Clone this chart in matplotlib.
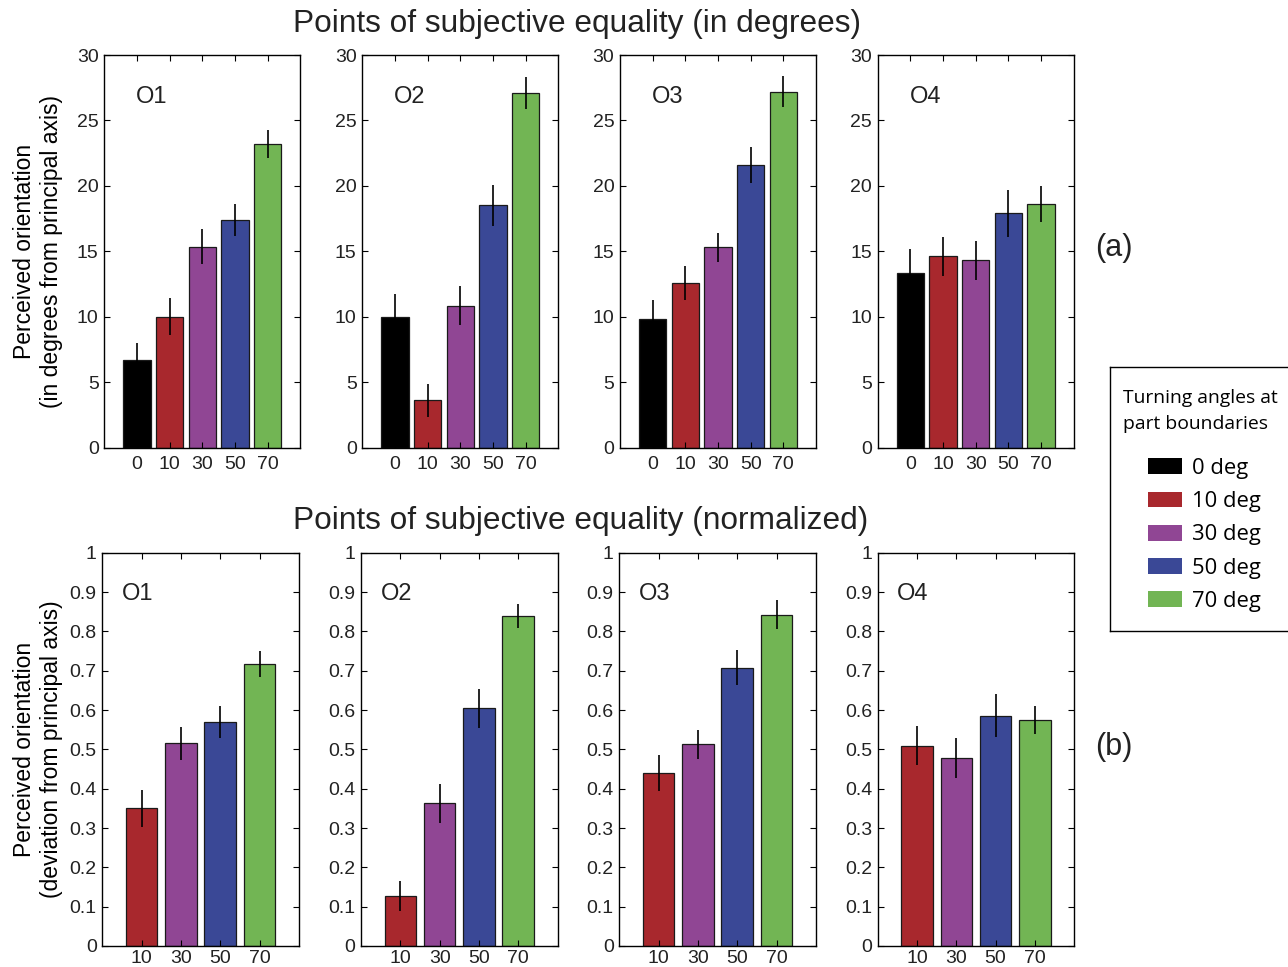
import matplotlib
matplotlib.use('Agg')
import matplotlib.pyplot as plt
from matplotlib.patches import Patch

plt.rcParams['font.family'] = ['Liberation Sans', 'DejaVu Sans']

# data
observers = ['O1', 'O2', 'O3', 'O4']
angles_deg = ['0', '10', '30', '50', '70']
angles_norm = ['10', '30', '50', '70']
colors = ['#000000', '#a8282d', '#904694', '#3a4896', '#72b554']

pse_deg = [
    [6.7, 10.0, 15.35, 17.4, 23.2],
    [10.0, 3.6, 10.85, 18.5, 27.1],
    [9.85, 12.6, 15.3, 21.6, 27.2],
    [13.3, 14.6, 14.3, 17.9, 18.6],
]
err_deg = [
    [1.3, 1.4, 1.35, 1.2, 1.1],
    [1.7, 1.25, 1.5, 1.6, 1.2],
    [1.45, 1.3, 1.1, 1.35, 1.2],
    [1.85, 1.5, 1.5, 1.8, 1.4],
]
pse_norm = [
    [0.35, 0.515, 0.569, 0.717],
    [0.127, 0.363, 0.604, 0.839],
    [0.439, 0.513, 0.708, 0.842],
    [0.509, 0.478, 0.586, 0.575],
]
err_norm = [
    [0.047, 0.043, 0.04, 0.033],
    [0.038, 0.05, 0.05, 0.03],
    [0.046, 0.037, 0.044, 0.037],
    [0.05, 0.05, 0.055, 0.035],
]

W, H = 1288, 967
fig = plt.figure(figsize=(W / 100, H / 100), dpi=100)

def px_axes(left, top, right, bottom):
    return fig.add_axes([left / W, 1 - bottom / H, (right - left) / W, (bottom - top) / H])

def style(ax, xpad=6):
    ax.tick_params(direction='in', top=True, right=True, length=4, width=0.8,
                   labelsize=14, labelcolor='#222222', pad=4)
    ax.tick_params(axis='x', pad=xpad)
    for s in ax.spines.values():
        s.set_linewidth(1.0)

top_lefts = [104.3, 362.3, 620, 877.7]
bot_lefts = [102.3, 361, 619.3, 877.7]

# (a) degrees
for i, obs in enumerate(observers):
    ax = px_axes(top_lefts[i], 55, top_lefts[i] + 196, 447.5)
    x = range(1, 6)
    ax.bar(x, pse_deg[i], width=0.83, color=colors, edgecolor='#1a1a1a', linewidth=0.9)
    ax.errorbar(x, pse_deg[i], yerr=err_deg[i], fmt='none', ecolor='black', elinewidth=1.2, capsize=0)
    ax.set_xlim(0, 6)
    ax.set_ylim(0, 30)
    ax.set_xticks(list(x))
    ax.set_xticklabels(angles_deg)
    ax.set_yticks(range(0, 31, 5))
    ax.text(0.97, 26.8, obs, fontsize=17, va='center', ha='left', color='#222222')
    style(ax)
    if i == 0:
        ax.set_ylabel('Perceived orientation\n(in degrees from principal axis)', fontsize=16.5)
        ax.yaxis.set_label_coords((63 - 104.3) / 196, 0.5)

# (b) normalized
for i, obs in enumerate(observers):
    ax = px_axes(bot_lefts[i], 552.7, bot_lefts[i] + 196.5, 946)
    x = range(1, 5)
    ax.bar(x, pse_norm[i], width=0.8, color=colors[1:], edgecolor='#1a1a1a', linewidth=0.9)
    ax.errorbar(x, pse_norm[i], yerr=err_norm[i], fmt='none', ecolor='black', elinewidth=1.2, capsize=0)
    ax.set_xlim(0, 5)
    ax.set_ylim(0, 1)
    ax.set_xticks(list(x))
    ax.set_xticklabels(angles_norm)
    yt = [k / 10 for k in range(11)]
    ax.set_yticks(yt)
    ax.set_yticklabels(['0'] + ['%.1f' % v for v in yt[1:-1]] + ['1'])
    ax.text(0.5, 0.895, obs, fontsize=17, va='center', ha='left', color='#222222')
    style(ax, xpad=3)
    if i == 0:
        ax.set_ylabel('Perceived orientation\n(deviation from principal axis)', fontsize=16.5)
        ax.yaxis.set_label_coords((63 - 102.3) / 196.5, 0.5)

fig.text(577 / W, 1 - 24 / H, 'Points of subjective equality (in degrees)', fontsize=22.8,
         ha='center', va='center', color='#222222')
fig.text(581 / W, 1 - 521 / H, 'Points of subjective equality (normalized)', fontsize=22.8,
         ha='center', va='center', color='#222222')
fig.text(1114 / W, 1 - 248 / H, '(a)', fontsize=22, ha='center', va='center', color='#222222')
fig.text(1114 / W, 1 - 747 / H, '(b)', fontsize=22, ha='center', va='center', color='#222222')

# legend box
lax = px_axes(1110, 367, 1300, 631)
lax.set_xticks([])
lax.set_yticks([])
lax.set_facecolor('none')
for s in lax.spines.values():
    s.set_linewidth(1.0)
lax.text((1123 - 1110) / 190, 1 - (389 - 367) / 264, 'Turning angles at\npart boundaries',
         transform=lax.transAxes, fontsize=13.9, family=['Open Sans', 'DejaVu Sans'],
         va='top', ha='left', linespacing=1.6)
handles = [Patch(facecolor=c, edgecolor='none') for c in colors]
labels = [a + ' deg' for a in angles_deg]
lax.legend(handles, labels, loc='upper left', frameon=False,
           bbox_to_anchor=((1139 - 1110) / 190, 1 - (449 - 367) / 264),
           prop={'family': 'Open Sans', 'size': 15.8},
           handlelength=1.55, handleheight=0.73, handletextpad=0.45,
           labelspacing=0.56, borderaxespad=0)

fig.savefig('out.png', dpi=100)
